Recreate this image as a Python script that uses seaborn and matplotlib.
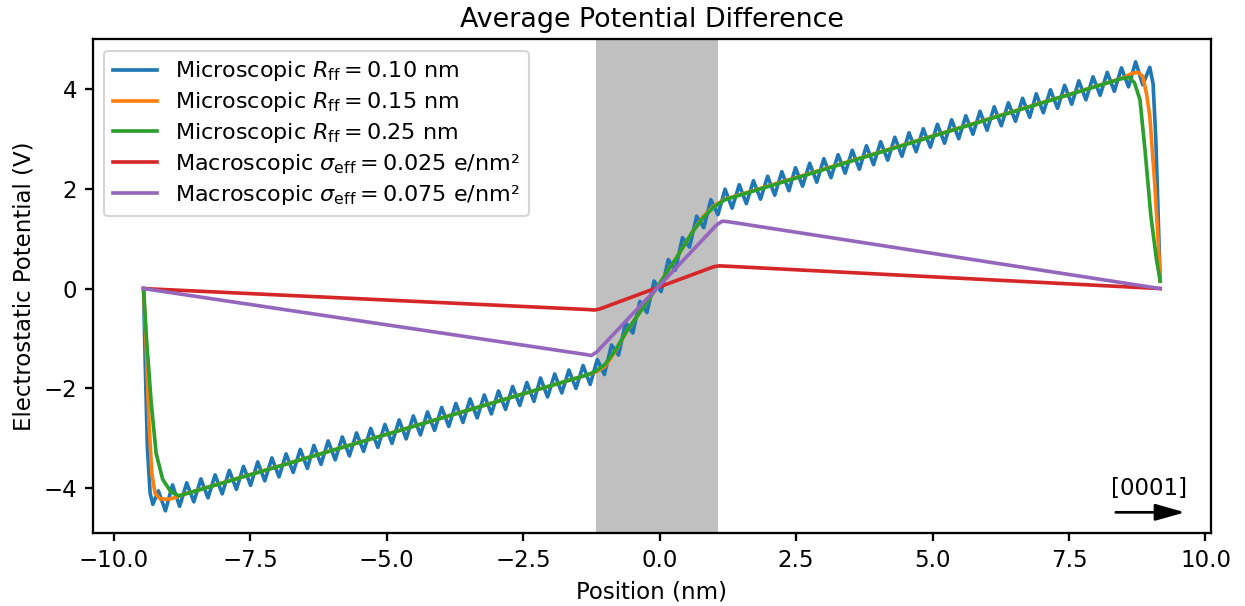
import numpy as np
import pandas as pd
import seaborn as sns
import matplotlib
matplotlib.use('Agg')
import matplotlib.pyplot as plt

# Valores (posição em nm, potencial em V)

# Microscópico R_ff = 0.10 nm (curva com oscilações: cristas e vales)
azul_x = [-9.45, -9.42, -9.38, -9.33, -9.28, -9.18, -9.05, -8.92, -8.79,
          -8.66, -8.53, -8.40, -8.27, -8.14, -8.01, -7.88, -7.75, -7.62, -7.49,
          -7.36, -7.23, -7.10, -6.97, -6.84, -6.71, -6.58, -6.45, -6.33, -6.20,
          -6.07, -5.94, -5.81, -5.68, -5.55, -5.42, -5.29, -5.16, -5.03, -4.90,
          -4.77, -4.64, -4.51, -4.38, -4.25, -4.12, -3.99, -3.86, -3.73, -3.60,
          -3.47, -3.34, -3.21, -3.08, -2.95, -2.82, -2.69, -2.56, -2.43, -2.30,
          -2.18, -2.05, -1.92, -1.79, -1.66, -1.53, -1.40, -1.27,
          -1.14, -1.01, -0.88, -0.75, -0.62, -0.49, -0.36, -0.23, -0.10, 0.03,
          0.16, 0.29, 0.42, 0.55, 0.68, 0.81, 0.94, 1.07,
          1.20, 1.33, 1.46, 1.59, 1.72, 1.85, 1.98, 2.11, 2.24, 2.37,
          2.49, 2.62, 2.75, 2.88, 3.01, 3.14, 3.27, 3.40, 3.53, 3.66,
          3.79, 3.92, 4.05, 4.18, 4.31, 4.44, 4.57, 4.70, 4.83, 4.96,
          5.09, 5.22, 5.35, 5.48, 5.61, 5.74, 5.87, 6.00, 6.13, 6.26,
          6.39, 6.52, 6.65, 6.78, 6.90, 7.03, 7.16, 7.29, 7.42, 7.55,
          7.68, 7.81, 7.94, 8.07, 8.20, 8.33, 8.46, 8.59, 8.72, 8.85,
          8.98, 9.04, 9.09, 9.13, 9.17]
azul_y = [0.00, -1.50, -3.20, -4.10, -4.32, -4.05, -4.45, -3.93, -4.36,
          -3.89, -4.27, -3.81, -4.19, -3.73, -4.11, -3.64, -4.02, -3.56, -3.94,
          -3.47, -3.85, -3.39, -3.77, -3.31, -3.68, -3.22, -3.60, -3.14, -3.52,
          -3.05, -3.43, -2.97, -3.35, -2.89, -3.26, -2.80, -3.18, -2.72, -3.10,
          -2.63, -3.01, -2.55, -2.93, -2.47, -2.84, -2.38, -2.76, -2.30, -2.68,
          -2.21, -2.59, -2.13, -2.51, -2.05, -2.42, -1.96, -2.34, -1.88, -2.26,
          -1.79, -2.17, -1.71, -2.09, -1.63, -2.00, -1.54, -1.92,
          -1.42, -1.72, -1.13, -1.33, -0.68, -0.89, -0.26, -0.48, 0.15, -0.06,
          0.58, 0.37, 1.02, 0.83, 1.45, 1.22, 1.78, 1.48,
          1.99, 1.61, 2.08, 1.70, 2.16, 1.79, 2.25, 1.87, 2.34, 1.96,
          2.42, 2.05, 2.51, 2.13, 2.60, 2.22, 2.68, 2.31, 2.77, 2.39,
          2.86, 2.48, 2.94, 2.57, 3.03, 2.65, 3.12, 2.74, 3.20, 2.83,
          3.29, 2.91, 3.38, 3.00, 3.46, 3.09, 3.55, 3.17, 3.64, 3.26,
          3.72, 3.35, 3.81, 3.43, 3.90, 3.52, 3.98, 3.61, 4.07, 3.69,
          4.16, 3.78, 4.24, 3.87, 4.33, 3.95, 4.42, 4.04, 4.54, 4.08,
          4.43, 4.10, 3.00, 1.60, 0.15]

# Microscópico R_ff = 0.15 nm
laranja_x = [-9.45, -9.40, -9.35, -9.30, -9.24, -9.15, -9.00, -8.85, -8.75,
             -1.30, -1.15, -1.00, -0.80, -0.60, -0.30, 0.00, 0.30, 0.60, 0.80,
             1.00, 1.20, 8.50, 8.65, 8.77, 8.85, 8.92, 8.98, 9.07, 9.13, 9.17]
laranja_y = [0.00, -1.20, -2.70, -3.70, -4.10, -4.21, -4.22, -4.18, -4.13,
             -1.72, -1.66, -1.56, -1.24, -0.85, -0.38, 0.10, 0.60, 1.13, 1.44,
             1.66, 1.79, 4.22, 4.31, 4.33, 4.25, 3.90, 3.45, 2.10, 1.00, 0.15]

# Microscópico R_ff = 0.25 nm
verde_x = [-9.45, -9.40, -9.31, -9.22, -9.10, -8.95, -8.80,
           -1.30, -1.15, -1.00, -0.80, -0.60, -0.30, 0.00, 0.30, 0.60, 0.80,
           1.00, 1.20, 8.45, 8.60, 8.70, 8.80, 8.89, 9.00, 9.10, 9.17]
verde_y = [0.00, -0.95, -2.29, -3.30, -3.82, -4.07, -4.15,
           -1.72, -1.64, -1.52, -1.22, -0.85, -0.38, 0.10, 0.60, 1.13, 1.42,
           1.64, 1.78, 4.20, 4.23, 4.12, 3.78, 2.80, 1.45, 0.60, 0.15]

# Macroscópico sigma_eff = 0.025 e/nm²
vermelho_x = [-9.45, -1.30, -1.20, -1.10, 1.00, 1.10, 1.20, 9.17]
vermelho_y = [0.00, -0.42, -0.43, -0.41, 0.44, 0.455, 0.45, 0.00]

# Macroscópico sigma_eff = 0.075 e/nm²
roxo_x = [-9.45, -1.35, -1.25, -1.15, 1.05, 1.15, 1.25, 9.17]
roxo_y = [0.00, -1.32, -1.34, -1.27, 1.28, 1.35, 1.34, 0.00]

# Faixa cinza (região central)
faixa = [-1.17, 1.08]

series = [
    (azul_x, azul_y, '#1f77b4', r'Microscopic $R_\mathrm{ff} = 0.10$ nm'),
    (laranja_x, laranja_y, '#ff7f0e', r'Microscopic $R_\mathrm{ff} = 0.15$ nm'),
    (verde_x, verde_y, '#2ca02c', r'Microscopic $R_\mathrm{ff} = 0.25$ nm'),
    (vermelho_x, vermelho_y, '#d62728', r'Macroscopic $\sigma_\mathrm{eff} = 0.025$ e/nm²'),
    (roxo_x, roxo_y, '#9467bd', r'Macroscopic $\sigma_\mathrm{eff} = 0.075$ e/nm²'),
]

fig, ax = plt.subplots(figsize=(8.3, 4.04), dpi=150)
fig.subplots_adjust(left=0.0745, right=0.9727, top=0.935, bottom=0.12)

ax.axvspan(faixa[0], faixa[1], color='silver', lw=0, zorder=0)

for xs, ys, cor, rotulo in series:
    df = pd.DataFrame({'x': xs, 'y': ys})
    sns.lineplot(data=df, x='x', y='y', color=cor, label=rotulo, lw=1.75,
                 sort=False, estimator=None, ax=ax)

ax.legend(loc='upper left', fontsize=10.7, labelspacing=0.31)
ax.set_title('Average Potential Difference', fontsize=12.9)
ax.set_xlabel('Position (nm)', fontsize=11)
ax.set_ylabel('Electrostatic Potential (V)', fontsize=11)
ax.tick_params(labelsize=11, width=1.1, length=4)
for lado in ax.spines.values():
    lado.set_linewidth(1.1)

# Seta indicando a direção [0001]
ax.annotate('', xy=(9.70, -4.48), xytext=(8.28, -4.48),
            arrowprops=dict(arrowstyle='-|>,head_length=1.2,head_width=0.34',
                            color='black', lw=1.3, mutation_scale=10))
ax.text(8.96, -4.0, '[0001]', ha='center', va='center', fontsize=11)

plt.savefig('out.png', dpi=150)
